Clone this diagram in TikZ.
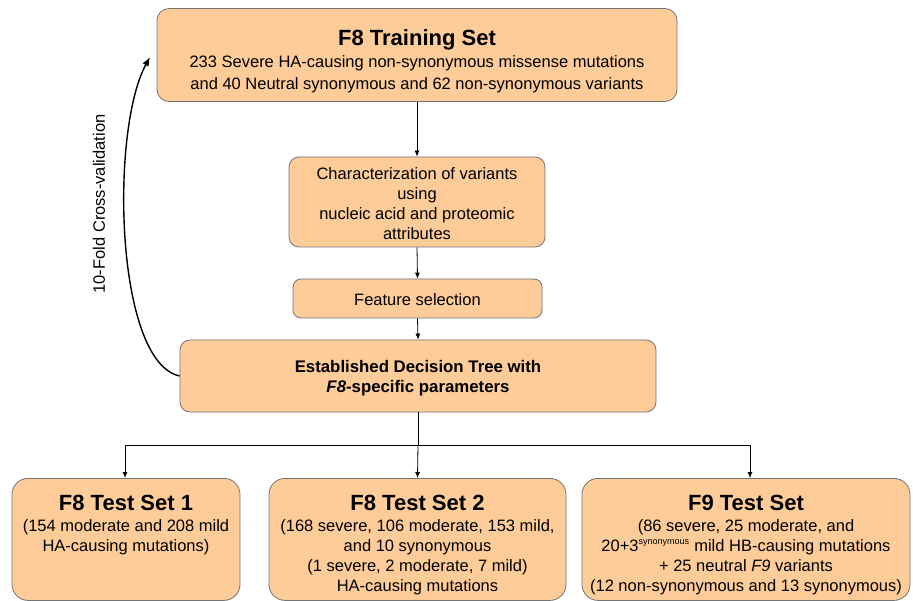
\documentclass[tikz,border=0pt]{standalone}
\usepackage{fontspec}
\setmainfont{Liberation Sans}
\usetikzlibrary{arrows.meta}
\definecolor{boxfill}{RGB}{253,204,153}
\definecolor{boxline}{RGB}{115,115,115}
\tikzset{
  stepbox/.style={draw=boxline, line width=0.8pt, fill=boxfill, rounded corners=12pt, inner sep=0pt, align=center},
  txt/.style={align=center, inner sep=0pt, font=\fontsize{16.5}{20}\selectfont},
  ttl/.style={align=center, inner sep=0pt, font=\fontsize{22}{24}\selectfont\bfseries},
  conn/.style={draw=black, line width=0.8pt, -{Latex[length=6pt,width=5pt]}},
  plainline/.style={draw=black, line width=0.8pt}
}
\begin{document}
\begin{tikzpicture}[x=1pt,y=-1pt]
\useasboundingbox (0,0) rectangle (913,601);
% boxes
\node[stepbox, minimum width=520pt, minimum height=93pt] (train) at (417,55) {};
\node[stepbox, minimum width=256pt, minimum height=90pt, rounded corners=10pt] (charac) at (417,202) {};
\node[stepbox, minimum width=249pt, minimum height=39pt, rounded corners=8pt] (feat) at (417.5,298.5) {};
\node[stepbox, minimum width=476pt, minimum height=72pt, rounded corners=10pt] (tree) at (418,376) {};
\node[stepbox, minimum width=228pt, minimum height=122pt, rounded corners=16pt, anchor=north] (t1) at (126,478) {};
\node[stepbox, minimum width=297pt, minimum height=122pt, rounded corners=16pt, anchor=north] (t2) at (417.5,478) {};
\node[stepbox, minimum width=328pt, minimum height=122pt, rounded corners=16pt, anchor=north] (t3) at (746,478) {};
% texts
\node[ttl] (traintitle) at (417,40) {F8 Training Set};
\node[txt, font=\fontsize{16.5}{22}\selectfont] (trainbody) at (417,74) {233 Severe HA-causing non-synonymous missense mutations\\and 40 Neutral synonymous and 62 non-synonymous variants};
\node[txt] (charactext) at (417,204) {Characterization of variants\\using\\nucleic acid and proteomic\\attributes};
\node[txt] (feattext) at (417.5,299.5) {Feature selection};
\node[txt, font=\fontsize{16.8}{20}\selectfont\bfseries] (treetext) at (418,378) {Established Decision Tree with\\\textit{F8}-specific parameters};
\node[ttl] (t1title) at (126,503) {F8 Test Set 1};
\node[txt] (t1body) at (126,537) {(154 moderate and 208 mild\\HA-causing mutations)};
\node[ttl] (t2title) at (417.5,503) {F8 Test Set 2};
\node[txt] (t2body) at (417.5,557) {(168 severe, 106 moderate, 153 mild,\\and 10 synonymous\\(1 severe, 2 moderate, 7 mild)\\HA-causing mutations};
\node[ttl] (t3title) at (746,503) {F9 Test Set};
\node[txt] (t3body) at (746,557) {(86 severe, 25 moderate, and\\20+3\textsuperscript{\fontsize{9}{9}\selectfont synonymous} mild HB-causing mutations\\+ 25 neutral \textit{F9} variants\\(12 non-synonymous and 13 synonymous)};
% connectors
\draw[conn] (train.south) -- (charac.north);
\draw[conn] (charac.south) -- (feat.north);
\draw[conn] (feat.south) -- (tree.north);
\coordinate (bus) at (418,445);
\coordinate (busL) at (125,445);
\coordinate (busR) at (750,445);
\draw[plainline] (tree.south) -- (bus);
\draw[plainline] (busL) -- (busR);
\draw[conn] (busL) -- (busL |- t1.north);
\draw[conn] (bus) -- (t2.north);
\draw[conn] (busR) -- (busR |- t3.north);
% cross-validation loop
\coordinate (loopend) at (150,57);
\draw[line width=1.4pt, -{Latex[length=9pt,width=7pt]}] (tree.west) .. controls (115,362) and (110,130) .. (loopend);
\node[rotate=90, txt] (cvlabel) at (99,204) {10-Fold Cross-validation};
\end{tikzpicture}
\end{document}
